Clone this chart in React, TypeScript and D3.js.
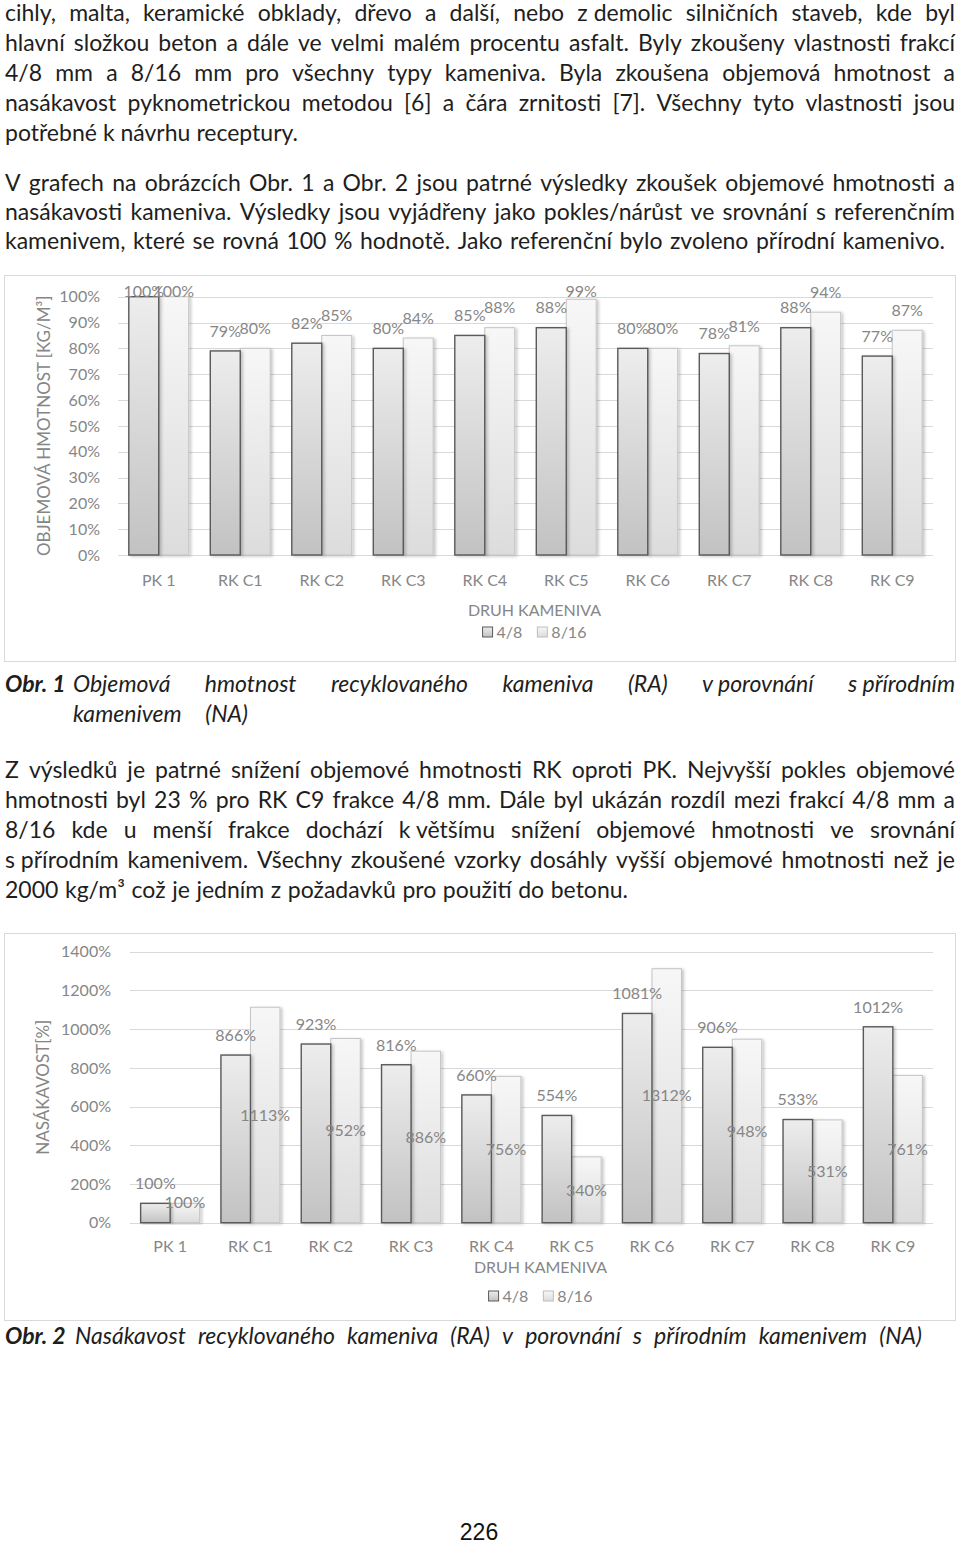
import React from 'react';
import * as d3 from 'd3';

// ---------- chart data ----------
const CATEGORIES = ['PK 1', 'RK C1', 'RK C2', 'RK C3', 'RK C4', 'RK C5', 'RK C6', 'RK C7', 'RK C8', 'RK C9'];
const SERIES = ['4/8', '8/16'];
const DENSITY_4_8 = [100, 79, 82, 80, 85, 88, 80, 78, 88, 77];
const DENSITY_8_16 = [100, 80, 85, 84, 88, 99, 80, 81, 94, 87];
const DENSITY_TICKS = [0, 10, 20, 30, 40, 50, 60, 70, 80, 90, 100];
const ABSORPTION_4_8 = [100, 866, 923, 816, 660, 554, 1081, 906, 533, 1012];
const ABSORPTION_8_16 = [100, 1113, 952, 886, 756, 340, 1312, 948, 531, 761];
const ABSORPTION_TICKS = [0, 200, 400, 600, 800, 1000, 1200, 1400];
const X_TITLE = 'DRUH KAMENIVA';
const DENSITY_Y_TITLE = 'OBJEMOVÁ HMOTNOST [KG/M³]';
const ABSORPTION_Y_TITLE = 'NASÁKAVOST[%]';

// ---------- page text ----------
const PARA_1 = [
  'cihly, malta, keramické obklady, dřevo a další, nebo z\u00a0demolic silničních staveb, kde byl',
  'hlavní složkou beton a dále ve velmi malém procentu asfalt. Byly zkoušeny vlastnosti frakcí',
  '4/8 mm a 8/16 mm pro všechny typy kameniva. Byla zkoušena objemová hmotnost a',
  'nasákavost pyknometrickou metodou [6] a čára zrnitosti [7]. Všechny tyto vlastnosti jsou',
  'potřebné k\u00a0návrhu receptury.',
];
const PARA_2 = [
  'V grafech na obrázcích Obr. 1 a Obr. 2 jsou patrné výsledky zkoušek objemové hmotnosti a',
  'nasákavosti kameniva. Výsledky jsou vyjádřeny jako pokles/nárůst ve srovnání s referenčním',
  'kamenivem, které se rovná 100 % hodnotě. Jako referenční bylo zvoleno přírodní kamenivo.',
];
const CAPTION_1_LABEL = 'Obr. 1';
const CAPTION_1 = [
  'Objemová hmotnost recyklovaného kameniva (RA) v\u00a0porovnání s\u00a0přírodním',
  'kamenivem (NA)',
];
const PARA_3 = [
  'Z výsledků je patrné snížení objemové hmotnosti RK oproti PK. Nejvyšší pokles objemové',
  'hmotnosti byl 23 % pro RK C9 frakce 4/8 mm. Dále byl ukázán rozdíl mezi frakcí 4/8 mm a',
  '8/16 kde u menší frakce dochází k\u00a0většímu snížení objemové hmotnosti ve srovnání',
  's\u00a0přírodním kamenivem. Všechny zkoušené vzorky dosáhly vyšší objemové hmotnosti než je',
  '2000 kg/m³ což je jedním z požadavků pro použití do betonu.',
];
const CAPTION_2_LABEL = 'Obr. 2';
const CAPTION_2 = ['Nasákavost recyklovaného kameniva (RA) v porovnání s přírodním kamenivem (NA)'];
const PAGE_NUMBER = '226';

const FONT = 'Lato, "Open Sans", sans-serif';
const BODY_SIZE = 23;
const BODY_COLOR = '#1e1e1e';
const CHART_TEXT = '#868686';
const GRID = '#d9d9d9';

let _ctx: CanvasRenderingContext2D | null = null;
function textWidth(t: string, font: string): number {
  if (!_ctx) _ctx = document.createElement('canvas').getContext('2d');
  if (!_ctx) return t.length * 10;
  _ctx.font = font;
  return _ctx.measureText(t).width;
}

type LineProps = {
  text: string;
  x0: number;
  x1: number;
  y: number;
  size?: number;
  italic?: boolean;
  bold?: boolean;
  justify?: boolean;
};

function JLine({ text, x0, x1, y, size = BODY_SIZE, italic = false, bold = false, justify = true }: LineProps) {
  const words = text.split(' ');
  const font = `${italic ? 'italic ' : ''}${bold ? '700' : '400'} ${size}px Lato`;
  const widths = words.map((w) => textWidth(w, font));
  const sum = d3.sum(widths);
  const space = textWidth(' ', font);
  const avail = x1 - x0;
  const n = words.length;
  let gap = space;
  let sx = 1;
  if (justify && n > 1) {
    gap = (avail - sum) / (n - 1);
    if (gap < space * 0.8) {
      gap = space * 0.8;
      sx = avail / (sum + gap * (n - 1));
    }
  } else {
    const nat = sum + space * (n - 1);
    if (nat > avail) sx = avail / nat;
  }
  let acc = 0;
  const xs = widths.map((w) => {
    const v = acc;
    acc += w + gap;
    return v;
  });
  return (
    <g transform={`translate(${x0},${y}) scale(${sx},1)`}>
      {words.map((w, k) => (
        <text
          key={k}
          x={xs[k]}
          y={0}
          fontFamily={FONT}
          fontSize={size}
          fontStyle={italic ? 'italic' : 'normal'}
          fontWeight={bold ? 700 : 400}
          fill={BODY_COLOR}
        >
          {w}
        </text>
      ))}
    </g>
  );
}

type ChartProps = {
  id: string;
  a: number[];
  b: number[];
  ticks: number[];
  frame: { x0: number; y0: number; x1: number; y1: number };
  plot: { left: number; right: number; top: number; bottom: number };
  tickGap: number;
  yTitle: string;
  yTitleX: number;
  xLabelY: number;
  axisTitleY: number;
  legendY: number;
  labelA: (y: d3.ScaleLinear<number, number>, v: number) => number;
  labelB: (y: d3.ScaleLinear<number, number>, v: number) => number;
};

function BarChart(p: ChartProps) {
  const yMax = d3.max(p.ticks) as number;
  const y = d3.scaleLinear().domain([0, yMax]).range([p.plot.bottom, p.plot.top]);
  const x = d3.scaleBand<string>().domain(CATEGORIES).range([p.plot.left, p.plot.right]).paddingInner(0.265).paddingOuter(0.1325);
  const xs = d3.scaleBand<string>().domain(SERIES).range([0, x.bandwidth()]);
  const bw = xs.bandwidth();
  const legendFont = `400 16px Lato`;
  const w1 = textWidth(SERIES[0], legendFont);
  const total = 11 + 3 + w1 + 15 + 11 + 3 + textWidth(SERIES[1], legendFont);
  const lx = (p.plot.left + p.plot.right) / 2 + 9 - total / 2;
  const yTitleCy = (p.plot.top + p.plot.bottom) / 2;
  return (
    <g>
      <rect x={p.frame.x0 + 0.5} y={p.frame.y0 + 0.5} width={p.frame.x1 - p.frame.x0} height={p.frame.y1 - p.frame.y0} fill="#fff" stroke={GRID} strokeWidth={1} />
      {p.ticks.map((t) => (
        <g key={t}>
          <line x1={p.plot.left} x2={p.plot.right} y1={Math.round(y(t)) + 0.5} y2={Math.round(y(t)) + 0.5} stroke={GRID} strokeWidth={1} />
          <text x={p.plot.left - p.tickGap} y={y(t)} dy="0.36em" textAnchor="end" fontFamily={FONT} fontSize={16} fill={CHART_TEXT}>
            {`${t}%`}
          </text>
        </g>
      ))}
      <text
        transform={`translate(${p.yTitleX},${yTitleCy}) rotate(-90)`}
        textAnchor="middle"
        dy="0.36em"
        fontFamily={FONT}
        fontSize={17}
        fill={CHART_TEXT}
      >
        {p.yTitle}
      </text>
      {CATEGORIES.map((c, i) => {
        const gx = x(c) as number;
        const va = p.a[i];
        const vb = p.b[i];
        const xa = gx + (xs(SERIES[0]) as number);
        const xb = gx + (xs(SERIES[1]) as number);
        return (
          <g key={c}>
            <rect x={xb} y={y(vb)} width={bw} height={y(0) - y(vb)} fill={`url(#${p.id}-g816)`} stroke="#c4c4c4" strokeWidth={1} filter={`url(#${p.id}-sh)`} />
            <rect x={xa} y={y(va)} width={bw} height={y(0) - y(va)} fill={`url(#${p.id}-g48)`} stroke="#5a5a5a" strokeWidth={1.4} filter={`url(#${p.id}-sh)`} />
            <text x={xa + bw / 2} y={p.labelA(y, va)} dy="0.36em" textAnchor="middle" fontFamily={FONT} fontSize={16} fill={CHART_TEXT}>
              {`${va}%`}
            </text>
            <text x={xb + bw / 2} y={p.labelB(y, vb)} dy="0.36em" textAnchor="middle" fontFamily={FONT} fontSize={16} fill={CHART_TEXT}>
              {`${vb}%`}
            </text>
            <text x={gx + x.bandwidth() / 2} y={p.xLabelY} textAnchor="middle" fontFamily={FONT} fontSize={16} fill={CHART_TEXT}>
              {c}
            </text>
          </g>
        );
      })}
      <text x={(p.plot.left + p.plot.right) / 2 + 9} y={p.axisTitleY} textAnchor="middle" fontFamily={FONT} fontSize={16} fill={CHART_TEXT}>
        {X_TITLE}
      </text>
      <g>
        <rect x={lx} y={p.legendY - 5} width={10} height={10} fill={`url(#${p.id}-g48)`} stroke="#5a5a5a" strokeWidth={1} />
        <text x={lx + 14} y={p.legendY} dy="0.36em" fontFamily={FONT} fontSize={16} fill={CHART_TEXT}>
          {SERIES[0]}
        </text>
        <rect x={lx + 14 + w1 + 15} y={p.legendY - 5} width={10} height={10} fill={`url(#${p.id}-g816)`} stroke="#bdbdbd" strokeWidth={1} />
        <text x={lx + 14 + w1 + 15 + 14} y={p.legendY} dy="0.36em" fontFamily={FONT} fontSize={16} fill={CHART_TEXT}>
          {SERIES[1]}
        </text>
      </g>
    </g>
  );
}

function Defs({ id }: { id: string }) {
  return (
    <>
      <linearGradient id={`${id}-g48`} x1="0" y1="0" x2="0" y2="1">
        <stop offset="0" stopColor="#ededed" />
        <stop offset="1" stopColor="#c2c2c2" />
      </linearGradient>
      <linearGradient id={`${id}-g816`} x1="0" y1="0" x2="0" y2="1">
        <stop offset="0" stopColor="#f7f7f7" />
        <stop offset="1" stopColor="#dcdcdc" />
      </linearGradient>
      <filter id={`${id}-sh`} x="-20%" y="-5%" width="150%" height="115%">
        <feDropShadow dx="2" dy="1" stdDeviation="1.5" floodColor="#000" floodOpacity="0.22" />
      </filter>
    </>
  );
}

export default function App() {
  const p1Base = [21, 51, 81, 111, 141];
  const p1Ends = [955, 955, 955, 955, 298];
  const p2Base = [191, 220, 249];
  const p2Ends = [955, 955, 945];
  const c1Base = [692, 722];
  const c1Ends = [955, 248];
  const p3Base = [778, 808, 838, 868, 898];
  const p3Ends = [955, 955, 955, 955, 628];

  return (
    <div style={{ position: 'absolute', left: 0, top: 0, width: 960, height: 1541, background: '#fff' }}>
      <svg width={960} height={1541} viewBox="0 0 960 1541" style={{ display: 'block' }}>
        <defs>
          <Defs id="c1" />
          <Defs id="c2" />
        </defs>
        <rect x={0} y={0} width={960} height={1541} fill="#fff" />
        {PARA_1.map((t, i) => (
          <JLine key={`p1-${i}`} text={t} x0={5} x1={p1Ends[i]} y={p1Base[i]} />
        ))}
        {PARA_2.map((t, i) => (
          <JLine key={`p2-${i}`} text={t} x0={5} x1={p2Ends[i]} y={p2Base[i]} />
        ))}

        <BarChart
          id="c1"
          a={DENSITY_4_8}
          b={DENSITY_8_16}
          ticks={DENSITY_TICKS}
          frame={{ x0: 4, y0: 275, x1: 955, y1: 661 }}
          plot={{ left: 118, right: 933, top: 296.7, bottom: 555 }}
          tickGap={18}
          yTitle={DENSITY_Y_TITLE}
          yTitleX={44}
          xLabelY={586}
          axisTitleY={616}
          legendY={632}
          labelA={(y, v) => Math.max(y(v) - 20, y(100) - 5)}
          labelB={(y, v) => Math.max(y(v) - 20, y(100) - 5)}
        />

        <JLine text={CAPTION_1_LABEL} x0={5} x1={70} y={c1Base[0]} bold italic justify={false} />
        {CAPTION_1.map((t, i) => (
          <JLine key={`c1-${i}`} text={t} x0={73} x1={c1Ends[i]} y={c1Base[i]} italic />
        ))}

        {PARA_3.map((t, i) => (
          <JLine key={`p3-${i}`} text={t} x0={5} x1={p3Ends[i]} y={p3Base[i]} />
        ))}

        <BarChart
          id="c2"
          a={ABSORPTION_4_8}
          b={ABSORPTION_8_16}
          ticks={ABSORPTION_TICKS}
          frame={{ x0: 4, y0: 933, x1: 955, y1: 1320 }}
          plot={{ left: 130, right: 933, top: 951.7, bottom: 1222.7 }}
          tickGap={19}
          yTitle={ABSORPTION_Y_TITLE}
          yTitleX={43}
          xLabelY={1252}
          axisTitleY={1273}
          legendY={1296}
          labelA={(y, v) => y(v) - 20}
          labelB={(y, v) => Math.min((y(v) + y(0)) / 2, y(0) - 20)}
        />

        <JLine text={CAPTION_2_LABEL} x0={5} x1={70} y={1344} bold italic justify={false} />
        {CAPTION_2.map((t, i) => (
          <JLine key={`c2-${i}`} text={t} x0={75} x1={922} y={1344} italic />
        ))}

        <text x={479} y={1540} textAnchor="middle" fontFamily='"Liberation Sans", Arial, sans-serif' fontSize={23} fill="#111">
          {PAGE_NUMBER}
        </text>
      </svg>
    </div>
  );
}
